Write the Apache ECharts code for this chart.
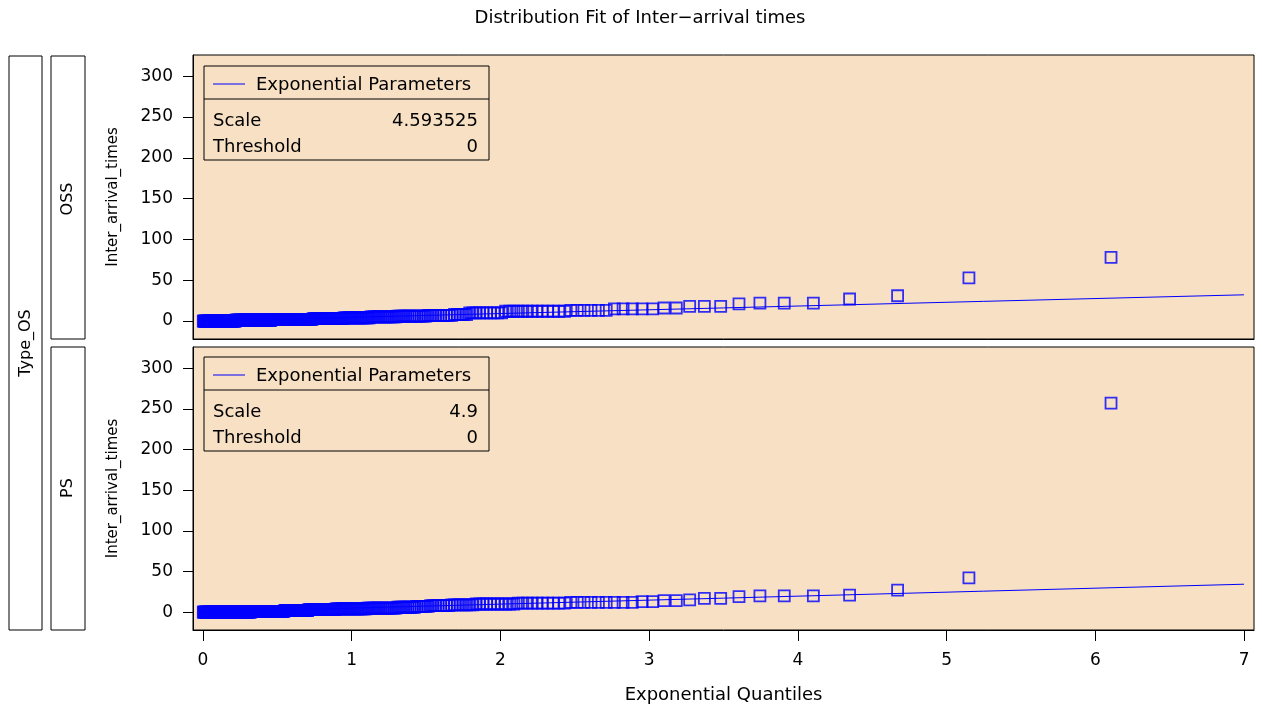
<!DOCTYPE html>
<html>
<head>
<meta charset="utf-8">
<script src="https://cdn.jsdelivr.net/npm/echarts@6/dist/echarts.min.js"></script>
<style>
html,body{margin:0;padding:0;background:#fff;}
#chart{width:1262px;height:706px;}
</style>
</head>
<body>
<div id="chart"></div>
<script>
// ---- data ----
const panelNames = ['OSS', 'PS'];
// sorted inter-arrival time values (distinct levels) and how many observations sit at each level
const ossLevels = [0, 1, 2, 3, 4, 5, 6, 7, 8, 10, 12, 13, 15, 16, 18, 21, 22, 27, 31, 53, 78];
const ossCounts = [55, 48, 43, 25, 18, 15, 14, 10, 5, 10, 13, 6, 5, 2, 3, 1, 3, 1, 1, 1, 1];
const psLevels = [0, 1, 2, 3, 4, 5, 6, 7, 8, 9, 10, 11, 12, 13, 14, 15, 17, 19, 20, 21, 27, 42, 257];
const psCounts = [77, 41, 24, 23, 22, 17, 9, 6, 8, 8, 11, 10, 9, 2, 2, 1, 2, 1, 3, 1, 1, 1, 1];
// fitted exponential parameters
const ossScale = 4.593525, ossThreshold = 0;
const psScale = 4.9, psThreshold = 0;
const xTicks = [0, 1, 2, 3, 4, 5, 6, 7];
const yTicks = [0, 50, 100, 150, 200, 250, 300];
const lineEndX = 7;

// ---- QQ plot construction (exponential plotting positions, Blom) ----
function qqPoints(levels, counts) {
  const ys = [];
  levels.forEach((v, k) => { for (let c = 0; c < counts[k]; c++) ys.push(v); });
  const n = ys.length;
  return ys.map((y, idx) => {
    const i = idx + 1;
    const p = (i - 0.375) / (n + 0.25);
    return [-Math.log(1 - p), y];
  });
}
const ossPts = qqPoints(ossLevels, ossCounts);
const psPts = qqPoints(psLevels, psCounts);

const FONT = 'DejaVu Sans';
const BLUE = '#0000FF';
const BG = '#F7E0C4';

const chart = echarts.init(document.getElementById('chart'), null, {renderer: 'canvas'});

function yAxis(idx) {
  return {
    gridIndex: idx, type: 'value', min: -22, max: 326,
    axisLine: {show: true, onZero: false, lineStyle: {color: '#000', width: 1}},
    axisTick: {show: true, length: 10, customValues: yTicks, lineStyle: {color: '#000', width: 1}},
    axisLabel: {customValues: yTicks, margin: 20, fontFamily: FONT, fontSize: 17, color: '#000'},
    splitLine: {show: false},
    name: 'Inter_arrival_times', nameLocation: 'middle', nameGap: 72, nameRotate: 90,
    nameTextStyle: {fontFamily: FONT, fontSize: 15, color: '#000'}
  };
}
function xAxis(idx, showLabels) {
  return {
    gridIndex: idx, type: 'value', min: -0.067, max: 7.067,
    axisLine: {show: true, onZero: false, lineStyle: {color: '#000', width: 1}},
    axisTick: {show: showLabels, length: 11, customValues: xTicks, lineStyle: {color: '#000', width: 1}},
    axisLabel: {show: showLabels, customValues: xTicks, margin: 22, fontFamily: FONT, fontSize: 17, color: '#000'},
    splitLine: {show: false},
    name: showLabels ? 'Exponential Quantiles' : '', nameLocation: 'middle', nameGap: 56,
    nameTextStyle: {fontFamily: FONT, fontSize: 18, color: '#000'}
  };
}

function legendBox(top, scale, threshold) {
  const left = 204, w = 285;
  const tf = '18px "DejaVu Sans"';
  return [
    {type: 'rect', shape: {x: left, y: top, width: w, height: 94}, style: {fill: 'none', stroke: '#000', lineWidth: 1}, z: 100},
    {type: 'line', shape: {x1: left, y1: top + 33, x2: left + w, y2: top + 33}, style: {stroke: '#000', lineWidth: 1}, z: 100},
    {type: 'line', shape: {x1: left + 9, y1: top + 18, x2: left + 41, y2: top + 18}, style: {stroke: BLUE, lineWidth: 1}, z: 100},
    {type: 'text', x: left + 52, y: top + 19, style: {text: 'Exponential Parameters', font: tf, fill: '#000', textAlign: 'left', textVerticalAlign: 'middle'}, z: 100},
    {type: 'text', x: left + 9, y: top + 55, style: {text: 'Scale', font: tf, fill: '#000', textAlign: 'left', textVerticalAlign: 'middle'}, z: 100},
    {type: 'text', x: left + w - 11, y: top + 55, style: {text: String(scale), font: tf, fill: '#000', textAlign: 'right', textVerticalAlign: 'middle'}, z: 100},
    {type: 'text', x: left + 9, y: top + 81, style: {text: 'Threshold', font: tf, fill: '#000', textAlign: 'left', textVerticalAlign: 'middle'}, z: 100},
    {type: 'text', x: left + w - 11, y: top + 81, style: {text: String(threshold), font: tf, fill: '#000', textAlign: 'right', textVerticalAlign: 'middle'}, z: 100}
  ];
}

function strip(x, y, w, h, label, cx, cy) {
  return [
    {type: 'rect', shape: {x: x, y: y, width: w, height: h}, style: {fill: '#fff', stroke: '#000', lineWidth: 1}},
    {type: 'text', x: cx, y: cy, rotation: Math.PI / 2,
     style: {text: label, font: '16px "DejaVu Sans"', fill: '#000', textAlign: 'center', textVerticalAlign: 'middle'}}
  ];
}

const scatterStyle = {color: 'rgba(0,0,0,0)', borderColor: BLUE, borderWidth: 1.8};

const option = {
  backgroundColor: '#fff',
  animation: false,
  title: {
    text: 'Distribution Fit of Inter\u2212arrival times', left: 635, top: 4, textAlign: 'center',
    textStyle: {fontFamily: FONT, fontSize: 18, fontWeight: 'normal', color: '#000'}
  },
  grid: [
    {left: 193, top: 55, width: 1061, height: 284, show: true, backgroundColor: BG, borderColor: '#000', borderWidth: 1, outerBoundsMode: 'none', containLabel: false},
    {left: 193, top: 347, width: 1061, height: 283, show: true, backgroundColor: BG, borderColor: '#000', borderWidth: 1, outerBoundsMode: 'none', containLabel: false}
  ],
  xAxis: [xAxis(0, false), xAxis(1, true)],
  yAxis: [yAxis(0), yAxis(1)],
  series: [
    {type: 'line', xAxisIndex: 0, yAxisIndex: 0, data: [[0, ossThreshold], [lineEndX, ossThreshold + ossScale * lineEndX]],
     symbol: 'none', lineStyle: {color: BLUE, width: 1}, z: 3},
    {type: 'scatter', xAxisIndex: 0, yAxisIndex: 0, data: ossPts, symbol: 'rect', symbolSize: 11, itemStyle: scatterStyle, z: 4},
    {type: 'line', xAxisIndex: 1, yAxisIndex: 1, data: [[0, psThreshold], [lineEndX, psThreshold + psScale * lineEndX]],
     symbol: 'none', lineStyle: {color: BLUE, width: 1}, z: 3},
    {type: 'scatter', xAxisIndex: 1, yAxisIndex: 1, data: psPts, symbol: 'rect', symbolSize: 11, itemStyle: scatterStyle, z: 4}
  ],
  graphic: [].concat(
    strip(9, 56, 33, 574, 'Type_OS', 25.5, 343),
    strip(51, 56, 34, 283, panelNames[0], 68, 199),
    strip(51, 347, 34, 283, panelNames[1], 68, 488),
    legendBox(66, ossScale, ossThreshold),
    legendBox(357, psScale, psThreshold)
  )
};
chart.setOption(option);
</script>
</body>
</html>
